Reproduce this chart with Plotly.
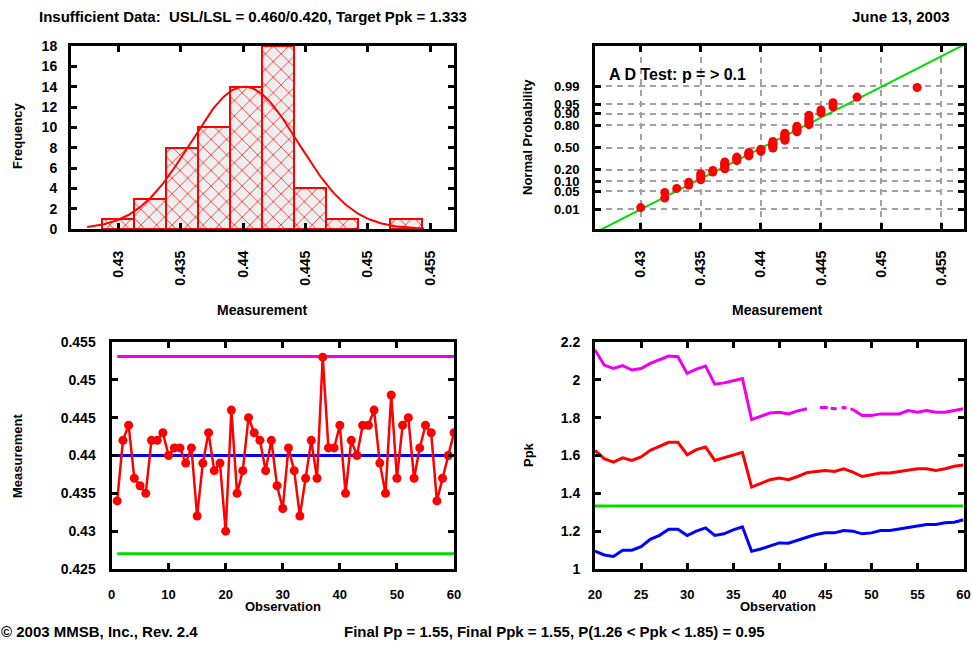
import numpy as np
import plotly.graph_objects as go
from statistics import NormalDist

# ---------------- data ----------------
measurements = [0.434, 0.442, 0.444, 0.437, 0.436, 0.435, 0.442, 0.442, 0.443, 0.440,
                0.441, 0.441, 0.439, 0.441, 0.432, 0.439, 0.443, 0.438, 0.439, 0.430,
                0.446, 0.435, 0.438, 0.445, 0.443, 0.442, 0.438, 0.442, 0.436, 0.433,
                0.441, 0.438, 0.432, 0.437, 0.442, 0.437, 0.453, 0.441, 0.441, 0.444,
                0.435, 0.442, 0.440, 0.444, 0.444, 0.446, 0.439, 0.435, 0.448, 0.437,
                0.444, 0.445, 0.437, 0.441, 0.444, 0.443, 0.434, 0.437, 0.440, 0.443]
observation = list(range(1, len(measurements) + 1))

center_line = 0.440
ucl = 0.4531
lcl = 0.4270

fit_mean = 0.4401
fit_sd = 0.00432
curve_peak = 14.0
curve_lo, curve_hi = 0.4275, 0.4545

bin_start = 0.42866
bin_width = 0.002568

prob_ticks = [0.01, 0.05, 0.10, 0.20, 0.50, 0.80, 0.90, 0.95, 0.99]
prob_tick_labels = ["0.01", "0.05", "0.10", "0.20", "0.50", "0.80", "0.90", "0.95", "0.99"]

ppk_obs = list(range(20, 61))
ppk_est = [1.627, 1.583, 1.565, 1.588, 1.574, 1.592, 1.627, 1.649, 1.670, 1.670,
           1.604, 1.631, 1.645, 1.574, 1.588, 1.604, 1.617, 1.433, 1.454, 1.472,
           1.481, 1.472, 1.489, 1.509, 1.516, 1.521, 1.516, 1.530, 1.512, 1.489,
           1.498, 1.507, 1.507, 1.516, 1.521, 1.530, 1.530, 1.521, 1.530, 1.543, 1.550]
ppk_upper = [2.158, 2.078, 2.060, 2.075, 2.052, 2.060, 2.087, 2.105, 2.126, 2.122,
             2.034, 2.057, 2.073, 1.977, 1.984, 1.995, 2.007, 1.790, 1.808, 1.825,
             1.829, 1.820, 1.836, 1.847, 1.853, 1.854, 1.847, 1.854, 1.843, 1.811,
             1.811, 1.820, 1.820, 1.820, 1.838, 1.829, 1.838, 1.829, 1.829, 1.838, 1.847]
ppk_lower = [1.094, 1.074, 1.066, 1.099, 1.099, 1.118, 1.157, 1.178, 1.210, 1.210,
             1.177, 1.200, 1.217, 1.177, 1.186, 1.207, 1.223, 1.094, 1.106, 1.124,
             1.138, 1.136, 1.150, 1.168, 1.182, 1.191, 1.191, 1.203, 1.200, 1.186,
             1.191, 1.203, 1.203, 1.212, 1.221, 1.228, 1.235, 1.235, 1.244, 1.247, 1.260]
target_ppk = 1.333

# ---------------- styling ----------------
RED = "#ff0000"
MAG = "#ee00ee"
BLUE = "#0000ff"
GREEN = "#00dd00"
FONT = "Liberation Sans"
W, H = 972, 645

def dom_x(a, b):
    return [a / W, b / W]

def dom_y(top, bottom):
    return [1 - bottom / H, 1 - top / H]

fig = go.Figure()

# ---- histogram (x, y) ----
fig.add_trace(go.Histogram(
    x=measurements, xaxis="x", yaxis="y",
    xbins=dict(start=bin_start, end=bin_start + 11 * bin_width, size=bin_width),
    marker=dict(color="#eeeeee", line=dict(color=RED, width=2),
                pattern=dict(shape="x", fgcolor=RED, bgcolor="#eeeeee",
                             fillmode="replace", size=11, solidity=0.12)),
    showlegend=False))
nd = NormalDist()
cx = np.linspace(curve_lo, curve_hi, 200)
cy = curve_peak * np.exp(-0.5 * ((cx - fit_mean) / fit_sd) ** 2)
fig.add_trace(go.Scatter(x=cx, y=cy, xaxis="x", yaxis="y", mode="lines",
                         line=dict(color=RED, width=2), showlegend=False))

# ---- normal probability plot (x2, y2) ----
srt = sorted(measurements)
n = len(srt)
prob_z = [nd.inv_cdf((i + 1 - 0.3) / (n + 0.4)) for i in range(n)]
x_range = [0.4262, 0.4569]
fit_x = x_range
fit_z = [(v - fit_mean) / fit_sd for v in fit_x]
fig.add_trace(go.Scatter(x=fit_x, y=fit_z, xaxis="x2", yaxis="y2", mode="lines",
                         line=dict(color=GREEN, width=2), showlegend=False))
fig.add_trace(go.Scatter(x=srt, y=prob_z, xaxis="x2", yaxis="y2", mode="markers",
                         marker=dict(color=RED, size=9, symbol="circle"),
                         showlegend=False))

# ---- control chart (x3, y3) ----
first, last = observation[0], observation[-1]
for val, col in [(ucl, MAG), (lcl, GREEN), (center_line, BLUE)]:
    fig.add_trace(go.Scatter(x=[first, last], y=[val, val], xaxis="x3", yaxis="y3",
                             mode="lines", line=dict(color=col, width=3),
                             showlegend=False))
fig.add_trace(go.Scatter(x=observation, y=measurements, xaxis="x3", yaxis="y3",
                         mode="lines+markers", line=dict(color=RED, width=2.5),
                         marker=dict(color=RED, size=9, symbol="circle"),
                         showlegend=False))

# ---- Ppk chart (x4, y4) ----
fig.add_trace(go.Scatter(x=[ppk_obs[0], ppk_obs[-1]], y=[target_ppk, target_ppk],
                         xaxis="x4", yaxis="y4", mode="lines",
                         line=dict(color=GREEN, width=3), showlegend=False))
i43 = ppk_obs.index(43)
i48 = ppk_obs.index(48)
fig.add_trace(go.Scatter(x=ppk_obs[:i43 + 1], y=ppk_upper[:i43 + 1], xaxis="x4", yaxis="y4",
                         mode="lines", line=dict(color=MAG, width=3), showlegend=False))
fig.add_trace(go.Scatter(x=ppk_obs[i43:i48 + 1], y=ppk_upper[i43:i48 + 1], xaxis="x4", yaxis="y4",
                         mode="lines",
                         line=dict(color=MAG, width=3, dash="0px,13px,8px,3px,6px,5px,5px,4px,100px"),
                         showlegend=False))
fig.add_trace(go.Scatter(x=ppk_obs[i48:], y=ppk_upper[i48:], xaxis="x4", yaxis="y4",
                         mode="lines", line=dict(color=MAG, width=3), showlegend=False))
fig.add_trace(go.Scatter(x=ppk_obs, y=ppk_est, xaxis="x4", yaxis="y4",
                         mode="lines", line=dict(color=RED, width=3), showlegend=False))
fig.add_trace(go.Scatter(x=ppk_obs, y=ppk_lower, xaxis="x4", yaxis="y4",
                         mode="lines", line=dict(color=BLUE, width=3), showlegend=False))

# ---------------- axes ----------------
tickfont = dict(family=FONT, size=14, color="black", weight="bold")
xtickfont = dict(family=FONT, size=13, color="black", weight="bold")

def ax(**kw):
    base = dict(showline=True, linecolor="black", linewidth=3, mirror="ticks",
                ticks="inside", ticklen=6, tickwidth=3, tickcolor="black",
                tickfont=tickfont, showgrid=False, zeroline=False,
                fixedrange=True, automargin=False)
    base.update(kw)
    return base

meas_ticks = [0.43, 0.435, 0.44, 0.445, 0.45, 0.455]
meas_labels = ["0.43", "0.435", "0.44", "0.445", "0.45", "0.455"]

top_row = dom_y(46, 229)
bot_row = dom_y(342, 569)

fig.update_layout(
    width=W, height=H,
    margin=dict(l=0, r=0, t=0, b=0),
    paper_bgcolor="white", plot_bgcolor="white",
    bargap=0,
    xaxis=ax(domain=dom_x(71, 454), anchor="y", range=x_range,
             tickvals=meas_ticks, ticktext=meas_labels, tickangle=-90,
             ticklabelstandoff=13),
    yaxis=ax(domain=top_row, anchor="x", range=[0, 18], tickvals=list(range(0, 19, 2)),
             ticklabelstandoff=8),
    xaxis2=ax(domain=dom_x(595, 964), anchor="y2", range=x_range,
              tickvals=meas_ticks, ticktext=meas_labels, tickangle=-90,
              ticklabelstandoff=13, showgrid=True, gridcolor="#a0a0a0",
              griddash="6px,5px", gridwidth=2),
    yaxis2=ax(domain=top_row, anchor="x2", range=[-3.08, 3.84],
              tickvals=[nd.inv_cdf(p) for p in prob_ticks], ticktext=prob_tick_labels,
              tickfont=dict(family=FONT, size=13, color="black", weight="bold"),
              ticklabelstandoff=10, showgrid=True, gridcolor="#a0a0a0",
              griddash="6px,5px", gridwidth=2),
    xaxis3=ax(domain=dom_x(111.5, 454), anchor="y3", range=[0, 60],
              tickvals=list(range(0, 61, 10)), tickfont=xtickfont, ticklabelstandoff=11),
    yaxis3=ax(domain=bot_row, anchor="x3", range=[0.425, 0.455],
              tickvals=[0.425, 0.43, 0.435, 0.44, 0.445, 0.45, 0.455],
              ticktext=["0.425", "0.43", "0.435", "0.44", "0.445", "0.45", "0.455"],
              ticklabelstandoff=10),
    xaxis4=ax(domain=dom_x(595, 963.5), anchor="y4", range=[20, 60],
              tickvals=list(range(20, 61, 5)), tickfont=xtickfont, ticklabelstandoff=11),
    yaxis4=ax(domain=bot_row, anchor="x4", range=[1.0, 2.2],
              tickvals=[1.0, 1.2, 1.4, 1.6, 1.8, 2.0, 2.2],
              ticktext=["1", "1.2", "1.4", "1.6", "1.8", "2", "2.2"],
              ticklabelstandoff=9),
)

# ---------------- text ----------------
def txt(x, y, s, size=13, angle=0, xanchor="center", bold=True):
    fig.add_annotation(x=x / W, y=1 - y / H, xref="paper", yref="paper", text=s,
                       showarrow=False, textangle=angle, xanchor=xanchor,
                       yanchor="middle", borderpad=0,
                       font=dict(family=FONT, size=size, color="black",
                                 weight="bold" if bold else "normal"))

txt(38, 16, "Insufficient Data:  USL/LSL = 0.460/0.420, Target Ppk = 1.333", 15, xanchor="left")
txt(951, 16, "June 13, 2003", 15, xanchor="right")
txt(262, 310, "Measurement", 14)
txt(777, 310, "Measurement", 14)
txt(17, 136, "Frequency", 13, angle=-90)
txt(527, 137, "Normal Probability", 13, angle=-90)
txt(17, 456, "Measurement", 13, angle=-90)
txt(528, 455, "Ppk", 13, angle=-90)
txt(283, 606, "Observation", 13)
txt(778, 606, "Observation", 13)
txt(608, 74, "A D Test: p = > 0.1", 16, xanchor="left")
txt(0, 631, "© 2003 MMSB, Inc., Rev. 2.4", 15, xanchor="left")
txt(343, 631, "Final Pp = 1.55, Final Ppk = 1.55, P(1.26 < Ppk < 1.85) = 0.95", 15, xanchor="left")

fig.write_html("out.html", config={"displayModeBar": False},
               post_script="document.body.style.margin='0';document.body.style.overflow='hidden';")
